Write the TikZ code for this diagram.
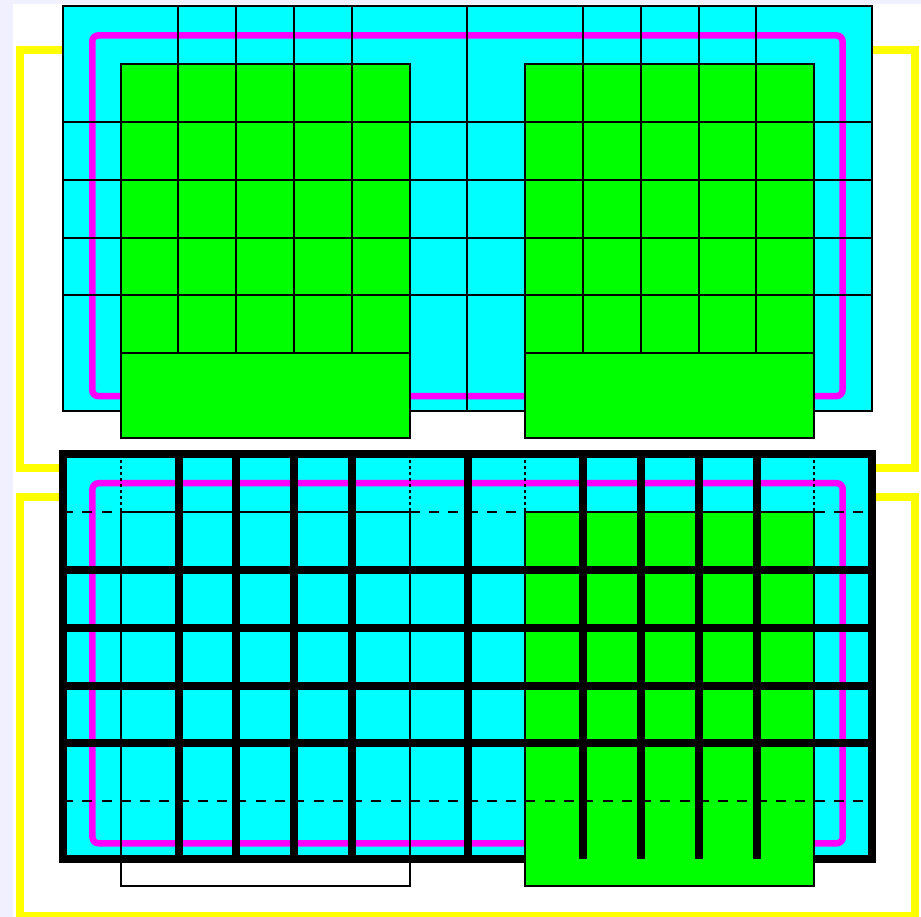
\documentclass[tikz,border=0pt]{standalone}
\definecolor{lav}{RGB}{240,240,255}
\definecolor{cy}{RGB}{0,255,255}
\definecolor{gr}{RGB}{0,255,0}
\definecolor{mg}{RGB}{255,0,255}
\definecolor{yl}{RGB}{255,255,0}
\tikzset{
  thinline/.style={line width=2pt, draw=black},
  thickgrid/.style={line width=8pt, draw=black},
  magentaloop/.style={draw=mg, line width=6.5pt, rounded corners=6pt},
  yellowloop/.style={draw=yl, line width=8pt},
  dottedrule/.style={thinline, dash pattern=on 3pt off 3pt},
  dashedrule/.style={thinline, dash pattern=on 10pt off 9.27pt},
  greenbox/.style={fill=gr, thinline}
}
\begin{document}
\begin{tikzpicture}[x=1pt,y=-1pt]
\useasboundingbox (0,0) rectangle (921,917);
\fill[lav] (0,0) rectangle (921,917);
\fill[white] (13,4) rectangle (921,917);
% ---------- top panel ----------
\begin{scope}[xshift=62.8pt,yshift=-6.5pt,x=57.8pt,y=-57.8pt]
  \draw[yellowloop] (-0.74,0.745) rectangle (14.74,7.99);
  \fill[cy] (0,0) rectangle (14,7);
  \draw[thinline] (0,0) rectangle (14,7);
  \draw[magentaloop] (0.51,0.5) rectangle (13.49,6.74);
  \foreach \c in {2,3,4,5,7,9,10,11,12} \draw[thinline] (\c,0) -- (\c,7);
  \foreach \r in {2,...,5} \draw[thinline] (0,\r) -- (14,\r);
  \foreach \a in {1,8} {
    \draw[greenbox] (\a,1) rectangle (\a+5,7.47);
    \foreach \c in {1,...,4} \draw[thinline] (\a+\c,1) -- (\a+\c,6);
    \foreach \r in {2,...,6} \draw[thinline] (\a,\r) -- (\a+5,\r);
  }
\end{scope}
% ---------- bottom panel ----------
\begin{scope}[xshift=63pt,yshift=-454.3pt,x=57.8pt,y=-57.8pt]
  \draw[yellowloop] (-0.74,0.74) rectangle (14.74,7.98);
  \fill[cy] (0,0) rectangle (14,7);
  \draw[thickgrid] (0,0) rectangle (14,7);
  \draw[magentaloop] (0.51,0.5) rectangle (13.49,6.73);
  \draw[thinline] (1,1) rectangle (6,7.47);
  \draw[greenbox] (8,1) rectangle (13,7.47);
  \foreach \c in {1,6,8,13} \draw[dottedrule] (\c,0) -- (\c,1);
  \foreach \r in {1,6} \draw[dashedrule] (0,\r) -- (14,\r);
  \foreach \c in {2,3,4,5,7,9,10,11,12} \draw[thickgrid] (\c,0) -- (\c,7);
  \foreach \r in {2,...,5} \draw[thickgrid] (0,\r) -- (14,\r);
\end{scope}
\end{tikzpicture}
\end{document}
